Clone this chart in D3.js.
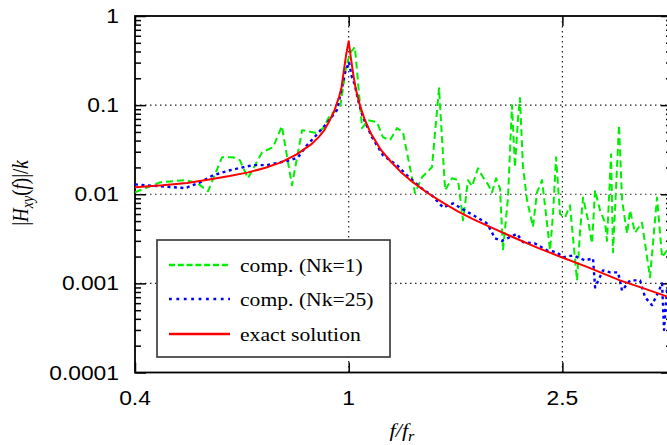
<!DOCTYPE html>
<html><head><meta charset="utf-8">
<script src="https://cdn.jsdelivr.net/npm/d3@7"></script>
<style>body{margin:0;background:#fff;overflow:hidden}</style>
</head><body>
<svg id="c" width="667" height="445"></svg>
<script>
// ---- data ----
const xTicks = [0.4, 1, 2.5];
const xTickLabels = ["0.4", "1", "2.5"];
const yTicks = [1, 0.1, 0.01, 0.001, 0.0001];
const yTickLabels = ["1", "0.1", "0.01", "0.001", "0.0001"];
const seriesNames = ["comp. (Nk=1)", "comp. (Nk=25)", "exact solution"];

const greenF = [0.400,0.445,0.496,0.522,0.547,0.581,0.609,0.627,0.649,0.690,0.723,0.751,0.784,0.819,0.873,0.896,0.923,0.964,0.989,1.006,1.027,1.059,1.086,1.129,1.158,1.194,1.230,1.262,1.329,1.369,1.429,1.473,1.512,1.558,1.598,1.633,1.668,1.697,1.741,1.779,1.817,1.849,1.881,1.913,1.938,1.980,2.014,2.040,2.067,2.084,2.111,2.148,2.204,2.242,2.291,2.330,2.371,2.402,2.433,2.475,2.529,2.583,2.662,2.697,2.732,2.791,2.839,2.876,2.938,3.002,3.027,3.080,3.106,3.187,3.229,3.299,3.341,3.414,3.517,3.640,3.751,3.833,3.916];
const greenV = [0.0105,0.0136,0.0144,0.0134,0.0108,0.0260,0.0260,0.0241,0.0151,0.0296,0.0337,0.0581,0.0126,0.0524,0.0485,0.0552,0.0772,0.095,0.267,0.384,0.449,0.0552,0.0678,0.0644,0.0437,0.0404,0.0552,0.0497,0.0103,0.0155,0.0201,0.155,0.0111,0.0151,0.0144,0.0051,0.0144,0.0123,0.0196,0.0155,0.0129,0.0105,0.0151,0.0117,0.00235,0.0092,0.100,0.0201,0.0714,0.120,0.0206,0.0086,0.0043,0.0105,0.0144,0.0060,0.00235,0.0061,0.0260,0.0060,0.0055,0.0075,0.00108,0.0039,0.0092,0.0051,0.0028,0.0111,0.0066,0.0048,0.0030,0.0281,0.00223,0.0596,0.0086,0.0036,0.0066,0.0037,0.0048,0.00117,0.0092,0.00196,0.00235];

const blueF = [0.400,0.445,0.496,0.529,0.559,0.601,0.663,0.704,0.778,0.805,0.836,0.877,0.911,0.951,0.972,0.984,0.993,1.001,1.014,1.027,1.041,1.063,1.105,1.158,1.230,1.284,1.358,1.429,1.499,1.564,1.682,1.734,1.810,1.873,1.930,2.058,2.111,2.223,2.341,2.443,2.507,2.617,2.755,2.851,2.876,2.976,3.067,3.174,3.229,3.341,3.488,3.563,3.672,3.767,3.833,3.866,3.916];
const blueV = [0.0129,0.0123,0.0117,0.0136,0.0163,0.0186,0.0212,0.0212,0.0241,0.0260,0.0355,0.0485,0.0628,0.0879,0.159,0.229,0.267,0.304,0.206,0.168,0.114,0.073,0.0437,0.0274,0.0212,0.0163,0.0120,0.0097,0.0071,0.0079,0.0061,0.0055,0.0047,0.0032,0.0030,0.0036,0.0029,0.0028,0.00235,0.00223,0.00196,0.00206,0.00181,0.00191,0.0009,0.0014,0.00133,0.00133,0.00083,0.00108,0.00108,0.00070,0.00057,0.00079,0.0010,0.00030,0.0009];

const exactF = [0.4,0.45,0.5,0.55,0.6,0.65,0.7,0.75,0.8,0.85,0.88,0.9,0.92,0.94,0.96,0.97,0.98,0.99,1.0,1.01,1.02,1.03,1.05,1.07,1.1,1.15,1.2,1.25,1.3,1.4,1.5,1.6,1.7,1.85,2.0,2.25,2.5,2.8,3.2,3.6,4.0];
const exactV = [0.0120,0.0126,0.0134,0.0146,0.0160,0.0176,0.0198,0.0229,0.028,0.036,0.044,0.052,0.066,0.086,0.125,0.16,0.25,0.38,0.52,0.33,0.22,0.155,0.098,0.070,0.048,0.031,0.023,0.0178,0.0145,0.0104,0.0080,0.0064,0.0053,0.0042,0.0034,0.0025,0.00195,0.0015,0.00108,0.00085,0.00068];

// ---- layout ----
const L = 135, R = 672, T = 16, B = 372.5;
const SX = 1.17; // horizontal stretch of text seen in reference
const svg = d3.select("#c");
const x = d3.scaleLog().domain([0.4, 4]).range([L, R]);
const y = d3.scaleLog().domain([0.0001, 1]).range([B, T]);

svg.append("defs").append("clipPath").attr("id", "clip")
  .append("rect").attr("x", L).attr("y", T).attr("width", R - L).attr("height", B - T);

// grid
const grid = svg.append("g").attr("stroke", "#222").attr("stroke-width", 1.2)
  .attr("stroke-dasharray", "1.5,3.5");
grid.selectAll("line.v").data(xTicks.filter(d => d > 0.4)).join("line")
  .attr("x1", d => x(d)).attr("x2", d => x(d)).attr("y1", T).attr("y2", B);
grid.selectAll("line.h").data(yTicks.filter(d => d < 1 && d > 0.0001)).join("line").attr("class","h")
  .attr("x1", L).attr("x2", R).attr("y1", d => y(d)).attr("y2", d => y(d));

// axes ticks
const minorY = y.ticks().filter(v => !yTicks.some(t => Math.abs(t - v) / t < 1e-6));
function styleAxis(g) {
  g.select(".domain").remove();
  g.selectAll(".tick line").attr("stroke", "#000").attr("stroke-width", 1.5);
}
svg.append("g").attr("transform", `translate(${L},0)`)
  .call(d3.axisLeft(y).tickValues(yTicks).tickSize(-11).tickFormat("")).call(styleAxis);
svg.append("g").attr("transform", `translate(${L},0)`)
  .call(d3.axisLeft(y).tickValues(minorY).tickSize(-6).tickFormat("")).call(styleAxis);
svg.append("g").attr("transform", `translate(${R},0)`)
  .call(d3.axisRight(y).tickValues(yTicks).tickSize(-11).tickFormat("")).call(styleAxis);
svg.append("g").attr("transform", `translate(${R},0)`)
  .call(d3.axisRight(y).tickValues(minorY).tickSize(-6).tickFormat("")).call(styleAxis);
svg.append("g").attr("transform", `translate(0,${B})`)
  .call(d3.axisBottom(x).tickValues(xTicks).tickSize(-10).tickFormat("")).call(styleAxis);
svg.append("g").attr("transform", `translate(0,${T})`)
  .call(d3.axisTop(x).tickValues(xTicks).tickSize(-10).tickFormat("")).call(styleAxis);

// border
svg.append("rect").attr("x", L).attr("y", T).attr("width", R - L).attr("height", B - T)
  .attr("fill", "none").attr("stroke", "#000").attr("stroke-width", 1.8);

// tick labels
function sText(px, py, str, anchor, size, family) {
  return svg.append("text").attr("transform", `translate(${px},${py}) scale(${SX},1)`)
    .attr("text-anchor", anchor).attr("font-size", size).attr("font-family", family)
    .attr("fill", "#000").text(str);
}
yTicks.forEach((v, i) => sText(119, y(v) + 7, yTickLabels[i], "end", 19.5, "'Liberation Sans', Arial, sans-serif"));
xTicks.forEach((v, i) => sText(x(v), 405, xTickLabels[i], "middle", 19.5, "'Liberation Sans', Arial, sans-serif"));

// axis titles
const serif = "'Liberation Serif', 'Times New Roman', serif";
const xt = svg.append("text").attr("transform", `translate(402,437) scale(${SX},1)`)
  .attr("text-anchor", "middle").attr("font-family", serif).attr("font-size", 19).attr("font-style", "italic");
xt.append("tspan").text("f/f");
xt.append("tspan").attr("font-size", 14).attr("dy", 4).text("r");

const yt = svg.append("text").attr("transform", `translate(28,193) scale(${SX},1) rotate(-90)`)
  .attr("text-anchor", "middle").attr("font-family", serif).attr("font-size", 19);
yt.append("tspan").text("|");
yt.append("tspan").attr("font-style", "italic").text("H");
yt.append("tspan").attr("font-style", "italic").attr("font-size", 14).attr("dy", 4).text("xy");
yt.append("tspan").attr("dy", -4).text("(");
yt.append("tspan").attr("font-style", "italic").text("f");
yt.append("tspan").text(")|/");
yt.append("tspan").attr("font-style", "italic").text("k");

// data lines
const line = d3.line().x(d => x(d[0])).y(d => y(d[1]));
const plot = svg.append("g").attr("clip-path", "url(#clip)");
const styles = [
  { col: "#00ee00", w: 2, dash: "7,4" },
  { col: "#0000ff", w: 2.4, dash: "3,3.5" },
  { col: "#ff0000", w: 2, dash: null }
];
const series = [
  d3.zip(greenF, greenV),
  d3.zip(blueF, blueV),
  d3.zip(exactF, exactV)
];
series.forEach((s, i) => {
  plot.append("path").datum(s).attr("d", line).attr("fill", "none")
    .attr("stroke", styles[i].col).attr("stroke-width", styles[i].w)
    .attr("stroke-dasharray", styles[i].dash).attr("stroke-linejoin", "round");
});

// legend
const lg = svg.append("g");
lg.append("rect").attr("x", 157).attr("y", 240).attr("width", 233).attr("height", 117)
  .attr("fill", "#fff").attr("stroke", "#333").attr("stroke-width", 1.6);
const ly = [265, 299, 334];
seriesNames.forEach((n, i) => {
  lg.append("line").attr("x1", 169).attr("x2", 230).attr("y1", ly[i]).attr("y2", ly[i])
    .attr("stroke", styles[i].col).attr("stroke-width", i === 1 ? 2.6 : 2.4)
    .attr("stroke-dasharray", i === 0 ? "6,2.8" : (i === 1 ? "2.8,4.6" : null));
  lg.append("text").attr("transform", `translate(240,${ly[i] + 7}) scale(${SX},1)`)
    .attr("font-family", serif).attr("font-size", 18.5).text(n);
});
</script>
</body></html>
